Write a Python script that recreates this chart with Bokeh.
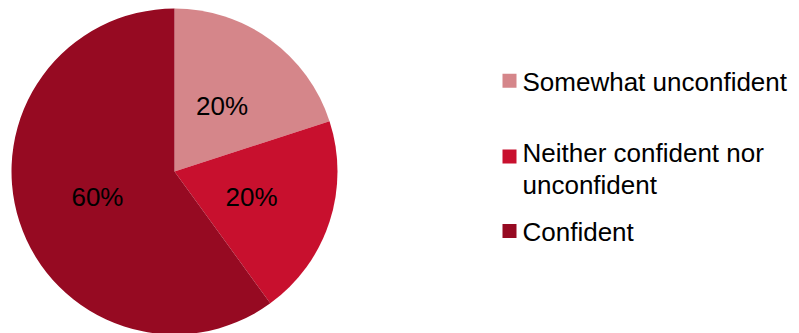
import math
from bokeh.plotting import figure
from bokeh.models import Range1d, ColumnDataSource
from bokeh.core.properties import value
from bokeh.embed import file_html
from bokeh.resources import INLINE

categories = ["Somewhat unconfident", "Neither confident nor unconfident", "Confident"]
legend_lines = [["Somewhat unconfident"], ["Neither confident nor", "unconfident"], ["Confident"]]
values = [20, 20, 60]
labels = ["20%", "20%", "60%"]
colors = ["#D5868A", "#C8102E", "#960A22"]

W, H = 799, 333
CX, CY, R = 174, 171, 163  # pie centre / radius in picture pixels

p = figure(width=W, height=H, output_backend="svg", toolbar_location=None,
           x_range=Range1d(-CX, W - CX), y_range=Range1d(CY - H, CY),
           min_border=0)
p.axis.visible = False
p.grid.visible = False
p.outline_line_color = None
p.background_fill_color = "white"

total = sum(values)
starts, ends, mids = [], [], []
a = math.pi / 2
for v in values:
    sweep = 2 * math.pi * v / total
    starts.append(a)
    ends.append(a - sweep)
    mids.append(a - sweep / 2)
    a -= sweep

src = ColumnDataSource(dict(start=starts, end=ends, color=colors))
p.wedge(x=0, y=0, radius=R, start_angle="start", end_angle="end", direction="clock",
        fill_color="color", line_color=None, source=src)

lr = 81
p.text(x=[lr * math.cos(m) for m in mids], y=[lr * math.sin(m) for m in mids], text=labels,
       text_align="center", text_baseline="middle", text_font=value("Liberation Sans"),
       text_font_size="26px", text_color="black")

# legend (picture pixel positions converted to data coords)
sq_centers = [80.3, 156, 230.5]
text_mids = [[81], [152, 184], [231]]
for i in range(len(categories)):
    p.rect(x=509 - CX, y=CY - sq_centers[i], width=14, height=14, fill_color=colors[i], line_color=None)
    for line, m in zip(legend_lines[i], text_mids[i]):
        p.text(x=[522 - CX], y=[CY - m], text=[line], text_align="left", text_baseline="middle",
               text_font=value("Liberation Sans"), text_font_size="26px", text_color="black")

open("out.html", "w").write(file_html(p, INLINE))
